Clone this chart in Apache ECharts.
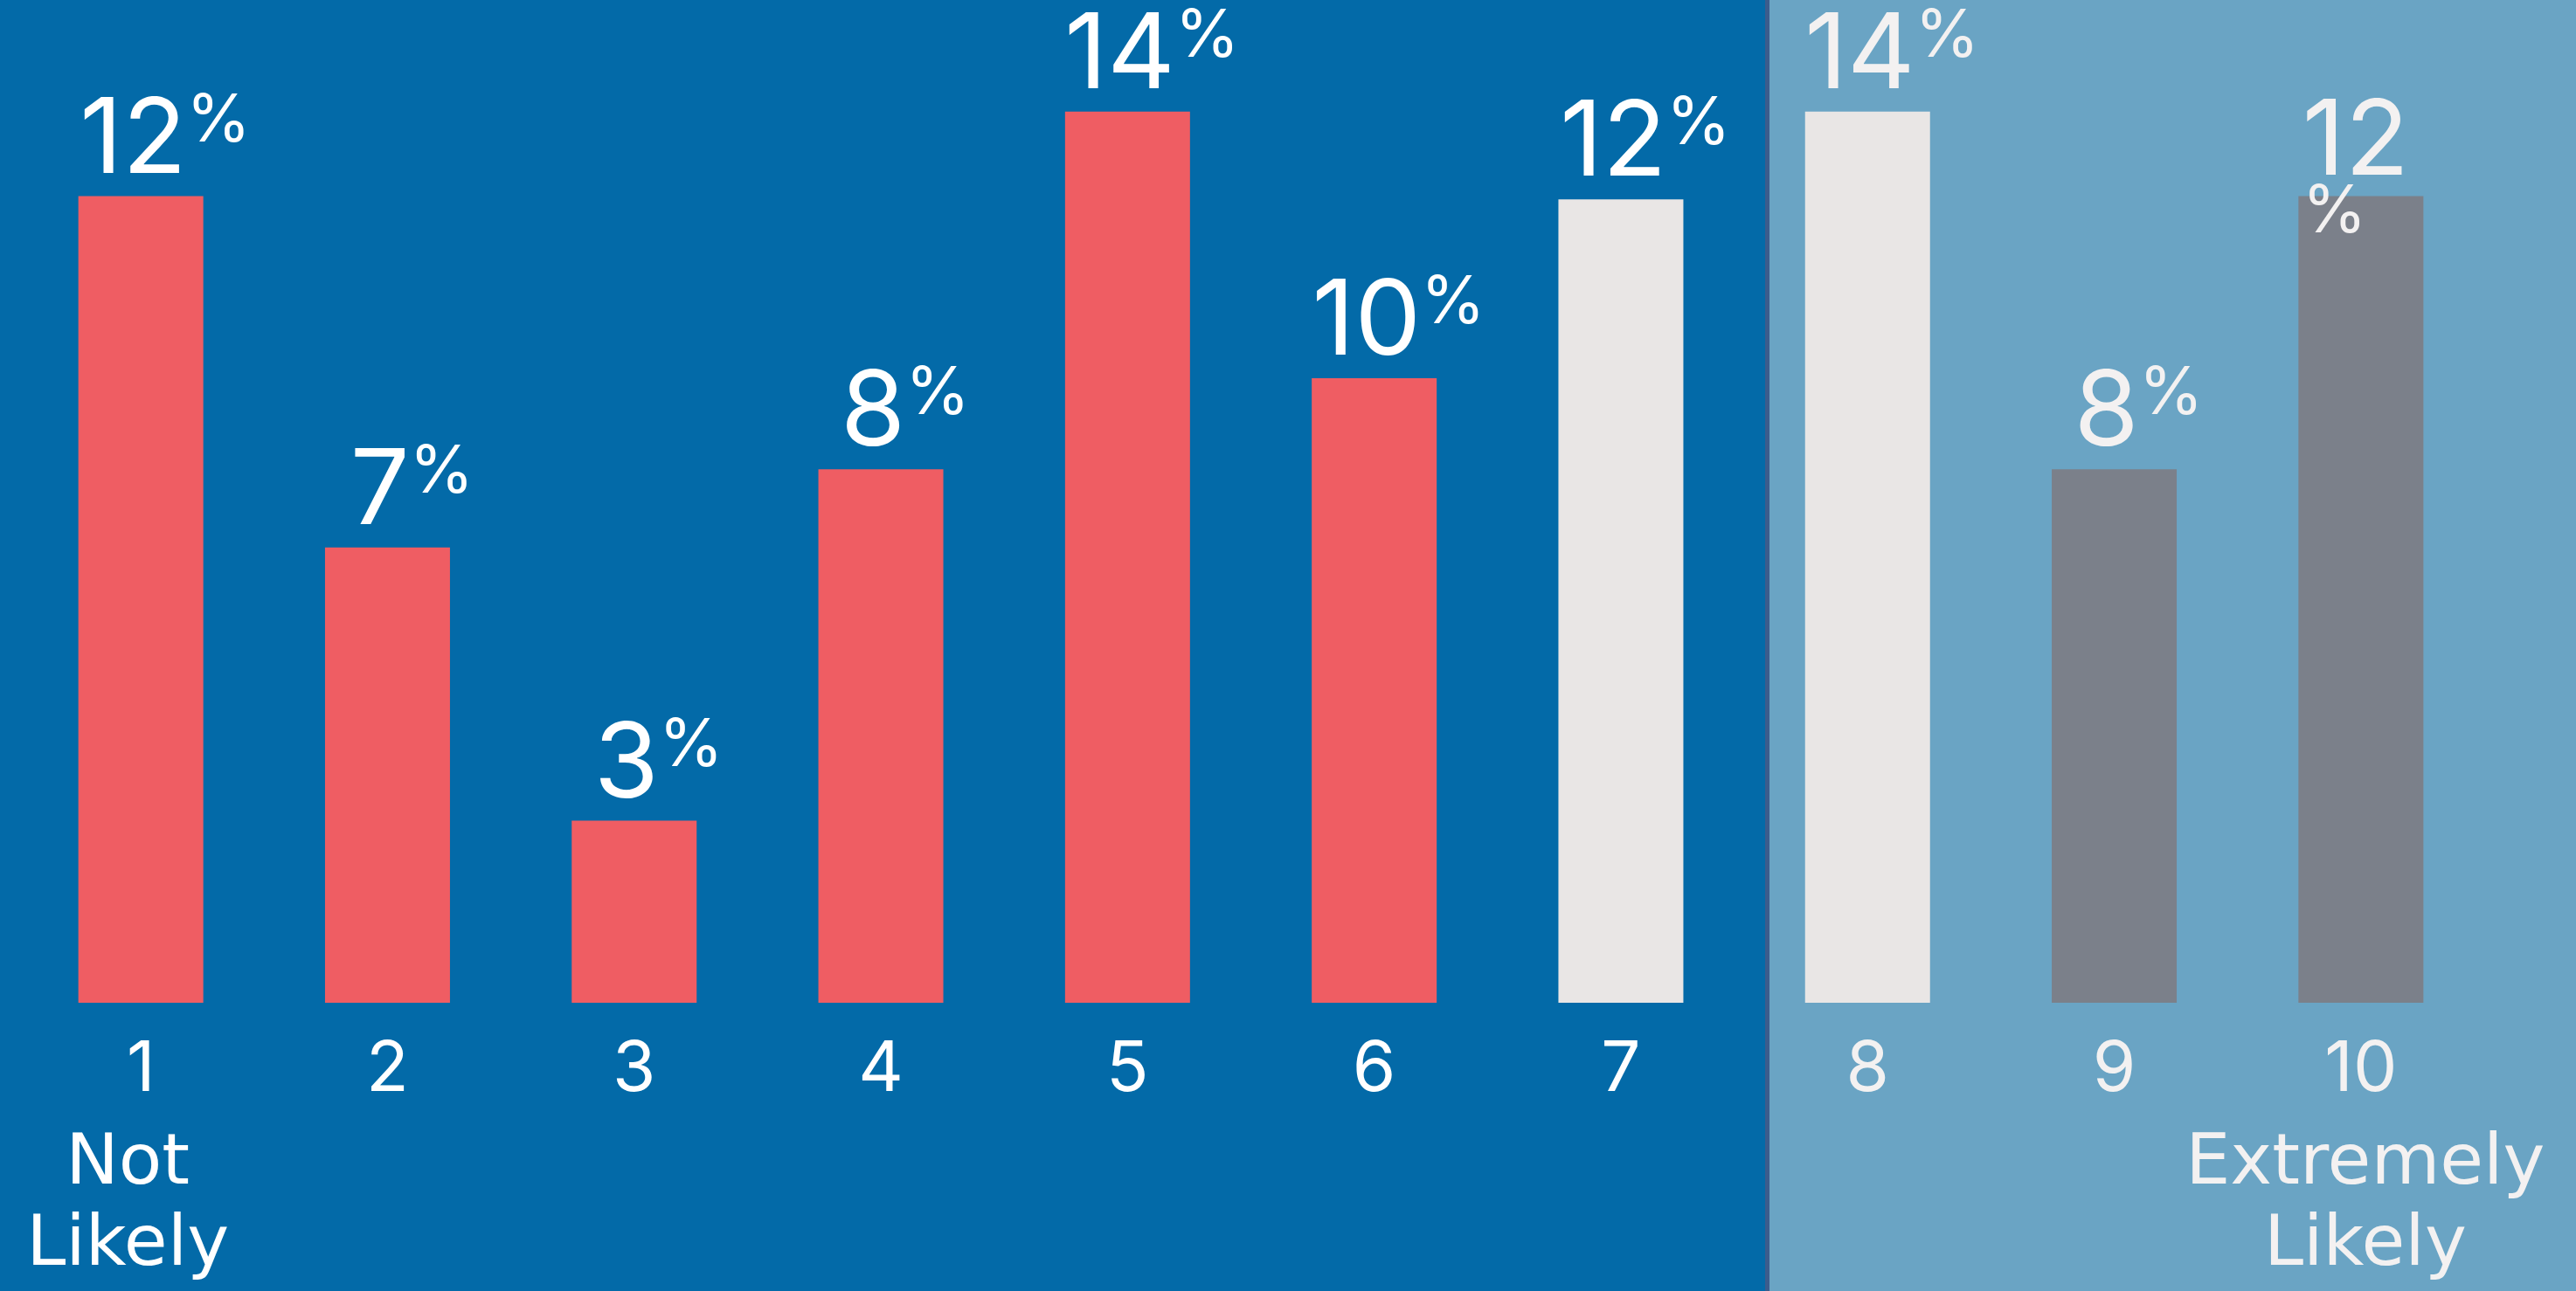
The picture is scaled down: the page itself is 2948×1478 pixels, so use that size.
<!DOCTYPE html>
<html><head><meta charset="utf-8">
<script src="https://cdn.jsdelivr.net/npm/echarts@6/dist/echarts.min.js"></script>
<style>html,body{margin:0;padding:0;background:#036aa8;overflow:hidden}#c{width:2948px;height:1478px}</style>
</head><body><div id="c"></div>
<script>
const categories = ['1','2','3','4','5','6','7','8','9','10'];
const values = [12.4, 7.0, 2.8, 8.2, 13.7, 9.6, 12.35, 13.7, 8.2, 12.4];
const valueLabels = ['12','7','3','8','14','10','12','14','8','12'];
const groups = ['low','low','low','low','low','low','mid','mid','high','high'];
const endLabels = {'1': ['Not','Likely'], '10': ['Extremely','Likely']};

const FONT = 'Inter';
const WORD_FONT = 'DejaVu Sans';
const barColors = {low:'#EF5D63', mid:'#E9E6E5', high:'#7B808A'};
const WHITE = '#FFFFFF', OFFWHITE = '#F3F1F1';
const RIGHT_START = 7; // index of first category on light panel

const chart = echarts.init(document.getElementById('c'), null, {renderer:'canvas'});

const barData = values.map((v, i) => {
  const item = {value: v, itemStyle: {color: barColors[groups[i]]}};
  if (i === values.length - 1) {
    item.label = {
      formatter: p => `{n2|${valueLabels[p.dataIndex]}}\n{q2|%}`,
      offset: [-6, 41]
    };
  }
  return item;
});

chart.setOption({
  backgroundColor: '#036AA8',
  animation: false,
  graphic: [
    {type:'rect', z:-10, shape:{x:2020, y:0, width:928, height:1478}, style:{fill:'#6AA4C4'}},
    {type:'rect', z:-9, shape:{x:2020, y:0, width:5, height:1478}, style:{fill:'#3B5C8C'}}
  ],
  grid: {left: 20, right: 105, top: 31, bottom: 330, containLabel: false},
  xAxis: {
    type: 'category',
    data: categories,
    axisLine: {show:false}, axisTick: {show:false}, splitLine:{show:false},
    axisLabel: {
      interval: 0, margin: 15,
      formatter: (v, i) => {
        const r = i >= RIGHT_START ? '2' : '';
        let s = `{n${r}|${v}}`;
        if (endLabels[v]) s += '\n' + endLabels[v].map(w => `{t${r}|${w}}`).join('\n');
        return s;
      },
      rich: {
        n:  {fontFamily:FONT, fontSize:80, lineHeight:124, color:WHITE},
        n2: {fontFamily:FONT, fontSize:80, lineHeight:124, color:OFFWHITE},
        t:  {fontFamily:WORD_FONT, fontSize:81, lineHeight:93, color:WHITE, padding:[0,30,0,0]},
        t2: {fontFamily:WORD_FONT, fontSize:81, lineHeight:93, color:OFFWHITE, padding:[0,0,0,10]}
      }
    }
  },
  yAxis: {type:'value', min:0, max:15, show:false, splitLine:{show:false}},
  series: [{
    type: 'bar',
    data: barData,
    barWidth: 143,
    label: {
      show: true, position: 'top', distance: 3, offset: [28, 0],
      formatter: p => {
        const r = p.dataIndex >= RIGHT_START ? '2' : '';
        return `{n${r}|${valueLabels[p.dataIndex]}}{p${r}|%}`;
      },
      rich: {
        n:  {fontFamily:FONT, fontSize:120, lineHeight:120, color:WHITE},
        p:  {fontFamily:FONT, fontSize:75, lineHeight:88, verticalAlign:'top', color:WHITE},
        n2: {fontFamily:FONT, fontSize:120, lineHeight:120, color:OFFWHITE},
        p2: {fontFamily:FONT, fontSize:75, lineHeight:88, verticalAlign:'top', color:OFFWHITE},
        q2: {fontFamily:FONT, fontSize:75, lineHeight:39, align:'left', color:OFFWHITE}
      }
    }
  }]
});
</script>
</body></html>
